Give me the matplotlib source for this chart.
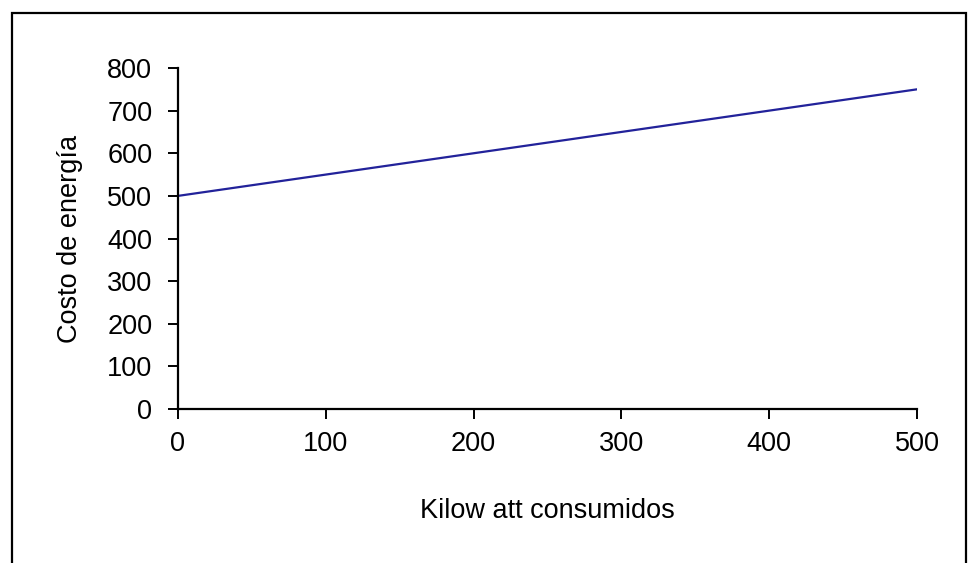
import matplotlib.pyplot as plt
from matplotlib.patches import Rectangle

# kilowatts consumidos vs costo de energia
kilowatts = [0, 100, 200, 300, 400, 500]
costo = [500, 550, 600, 650, 700, 750]
x_ticks = [0, 100, 200, 300, 400, 500]
y_ticks = [0, 100, 200, 300, 400, 500, 600, 700, 800]

plt.rcParams['font.family'] = ['Liberation Sans', 'DejaVu Sans']

fig = plt.figure(figsize=(9.72, 5.63), dpi=100)
ax = fig.add_axes([0.1831, 0.2735, 0.7603, 0.6057])

ax.plot(kilowatts, costo, color='#22229a', lw=1.6, solid_capstyle='round')

ax.set_xlim(0, 500)
ax.set_ylim(0, 800)
ax.set_xticks(x_ticks)
ax.set_yticks(y_ticks)
ax.tick_params(axis='both', labelsize=19.5, width=1.4, length=7.5, direction='out', colors='black')
ax.tick_params(axis='x', pad=8.5)
ax.tick_params(axis='y', pad=11)

for s in ['top', 'right']:
    ax.spines[s].set_visible(False)
for s in ['left', 'bottom']:
    ax.spines[s].set_linewidth(1.6)

ax.set_xlabel('Kilow att consumidos', fontsize=19.5, labelpad=29)
ax.set_ylabel('Costo de energía', fontsize=19.5, labelpad=17)

# marco exterior del grafico
fig.patches.append(Rectangle((0.0123, -0.05), 0.9815, 1.0269, transform=fig.transFigure,
                             fill=False, edgecolor='black', lw=1.6))

fig.savefig('out.png', dpi=100)
